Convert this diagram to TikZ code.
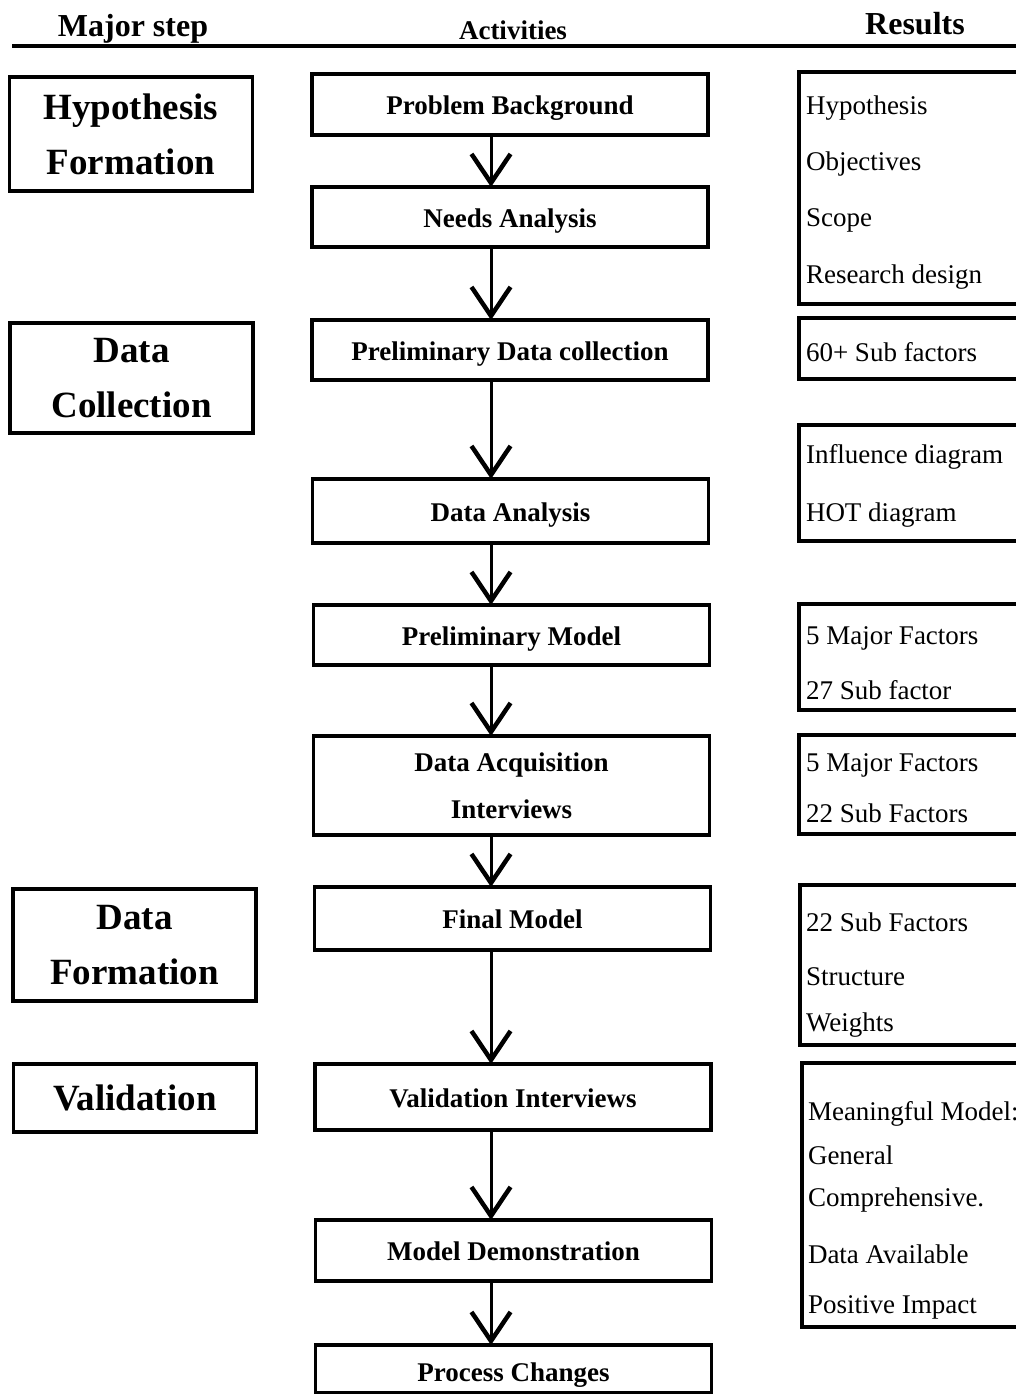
\documentclass[tikz,border=0pt]{standalone}
\usepackage{fontspec}
\setmainfont{Liberation Serif}
\usepackage{tikz}
\usetikzlibrary{arrows.meta,calc}

\tikzset{
  major/.style={draw=black, line width=3.5pt, minimum width=243pt,
    font=\bfseries\fontsize{37}{55}\selectfont, align=center},
  act/.style={draw=black, line width=3.5pt, minimum width=396pt,
    font=\bfseries\fontsize{27}{47}\selectfont, align=center},
  actline/.style={act, text height=20pt, text depth=0pt},
  res/.style={anchor=west, font=\fontsize{27}{32}\selectfont},
  resbox/.style={draw=black, line width=3.5pt},
  flow/.style={draw=black, line width=3pt,
    -{Straight Barb[length=29pt,width=39pt,line width=4.5pt]}},
}

\begin{document}
\begin{tikzpicture}[x=1pt, y=1pt, yscale=-1, inner sep=0pt, outer sep=0pt]
\useasboundingbox (0,0) rectangle (1016,1394);
\clip (0,0) rectangle (1016,1394);

  \node[font=\bfseries\fontsize{32}{36}\selectfont] (hmajor) at (133,29) {Major step};
  \node[font=\bfseries\fontsize{27}{32}\selectfont] (hact) at (513,30) {Activities};
  \node[font=\bfseries\fontsize{32}{36}\selectfont] (hres) at (915,24) {Results};
  \path[draw=black, line width=3.5pt] (12,46) -- (1030,46);

  \node[major, minimum height=114pt] (hypo) at (131,134) {Hypothesis\\Formation};
  \node[major, minimum height=110pt] (coll) at (131.5,378) {Data\\Collection};
  \node[major, minimum height=112pt] (form) at (134.5,945) {Data\\Formation};
  \node[major, minimum height=68pt] (valid) at (135,1098) {Validation};

  \node[actline, minimum height=61pt] (pb) at (510,104.5) {Problem Background};
  \node[actline, minimum height=60pt] (na) at (510,217) {Needs Analysis};
  \node[actline, minimum height=60pt] (pdc) at (510,350) {Preliminary Data collection};
  \node[actline, minimum height=64pt] (da) at (510.5,511) {Data Analysis};
  \node[actline, minimum height=60pt] (pm) at (511.5,635) {Preliminary Model};
  \node[act, minimum height=99pt] (dai) at (511.5,785.5) {Data Acquisition\\Interviews};
  \node[actline, minimum height=63pt] (fm) at (512.5,918.5) {Final Model};
  \node[actline, minimum height=66pt] (vi) at (513,1097) {Validation Interviews};
  \node[actline, minimum height=61pt] (md) at (513.5,1250.5) {Model Demonstration};
  \node[actline, minimum height=48pt, text height=24pt] (pc) at (513.5,1369) {Process Changes};

  \coordinate (ax) at (491,0);
  \draw[flow] (pb.south -| ax) -- (na.north -| ax);
  \draw[flow] (na.south -| ax) -- (pdc.north -| ax);
  \draw[flow] (pdc.south -| ax) -- (da.north -| ax);
  \draw[flow] (da.south -| ax) -- (pm.north -| ax);
  \draw[flow] (pm.south -| ax) -- (dai.north -| ax);
  \draw[flow] (dai.south -| ax) -- (fm.north -| ax);
  \draw[flow] (fm.south -| ax) -- (vi.north -| ax);
  \draw[flow] (vi.south -| ax) -- (md.north -| ax);
  \draw[flow] (md.south -| ax) -- (pc.north -| ax);

  \path[resbox] (799,72) rectangle (1030,304);
  \path[resbox] (799,318) rectangle (1030,379);
  \path[resbox] (799,425) rectangle (1030,541);
  \path[resbox] (799,604) rectangle (1030,710);
  \path[resbox] (799,735) rectangle (1030,834);
  \path[resbox] (800,885) rectangle (1030,1045);
  \path[resbox] (802,1063) rectangle (1030,1327);

  \node[res] (rhyp) at (806,108) {Hypothesis};
  \node[res] (robj) at (806,164) {Objectives};
  \node[res] (rsco) at (806,220) {Scope};
  \node[res] (rdes) at (806,277) {Research design};
  \node[res] (rsub) at (806,352) {60+ Sub factors};
  \node[res] (rinf) at (806,457) {Influence diagram};
  \node[res] (rhot) at (806,515) {HOT diagram};
  \node[res] (rmajA) at (806,638) {5 Major Factors};
  \node[res] (rsubA) at (806,690) {27 Sub factor};
  \node[res] (rmajB) at (806,765) {5 Major Factors};
  \node[res] (rsubB) at (806,813) {22 Sub Factors};
  \node[res] (rsubC) at (806,922) {22 Sub Factors};
  \node[res] (rstr) at (806,977) {Structure};
  \node[res] (rwei) at (806,1025) {Weights};
  \node[res] (rmean) at (808,1114) {Meaningful Model:};
  \node[res] (rgen) at (808,1155) {General};
  \node[res] (rcomp) at (808,1200) {Comprehensive.};
  \node[res] (ravail) at (808,1254) {Data Available};
  \node[res] (rimp) at (808,1307) {Positive Impact};

\end{tikzpicture}
\end{document}
